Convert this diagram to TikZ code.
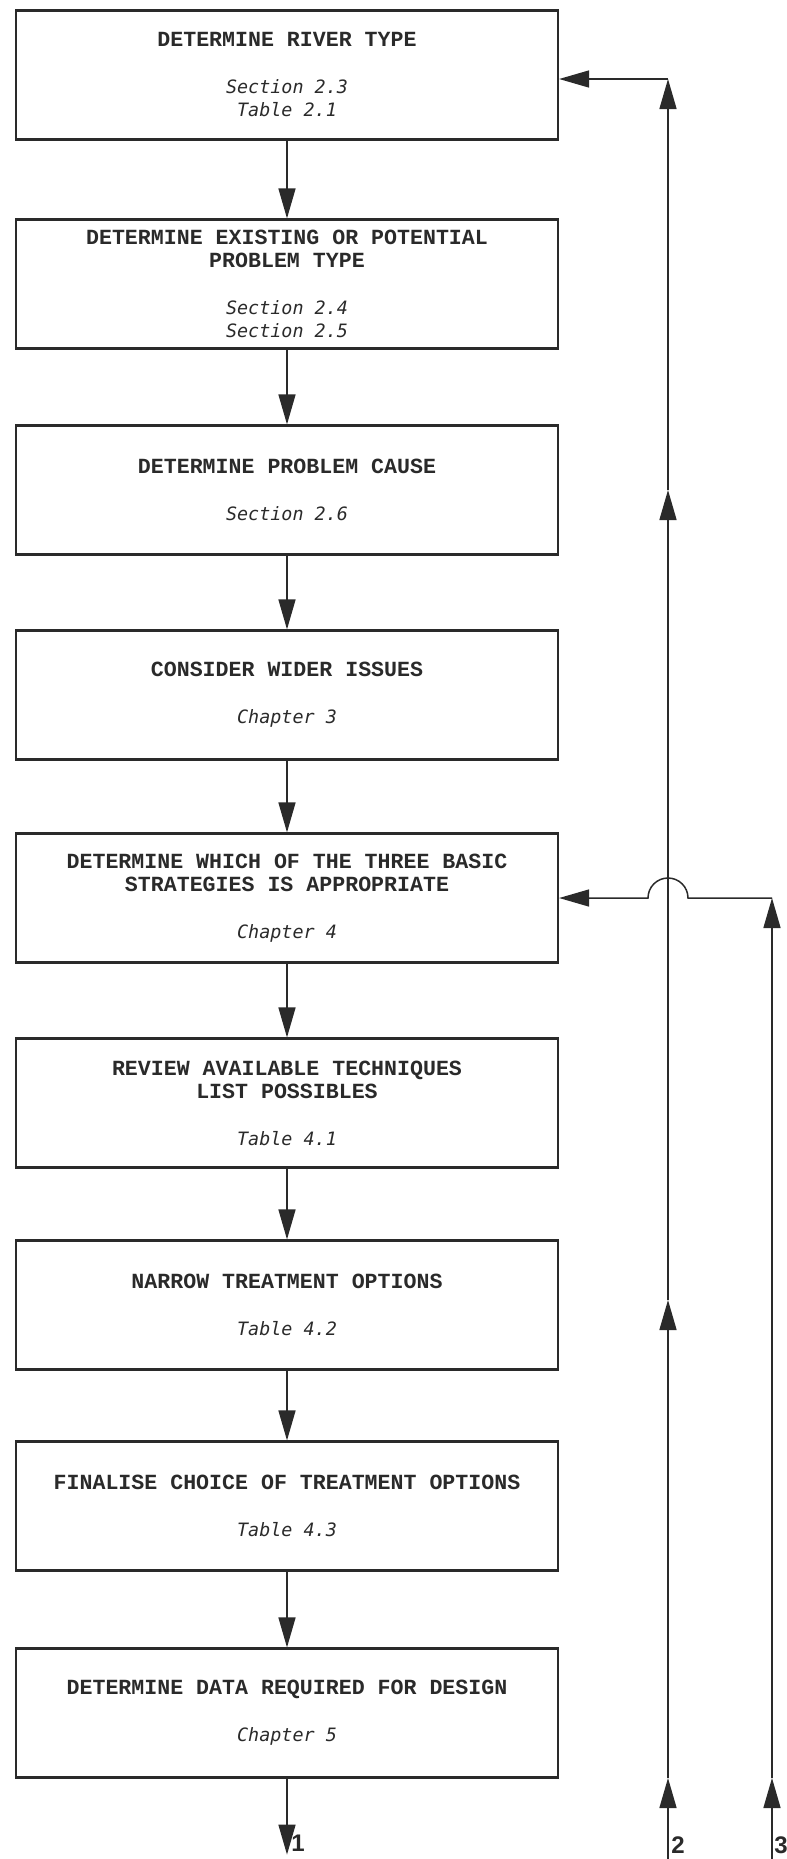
\documentclass[tikz,border=0pt]{standalone}
\usepackage{fontspec}
\setmonofont{Liberation Mono}
\newfontfamily\refsface{DejaVu Sans Mono}
\newfontfamily\digitfont{Liberation Sans}
\usetikzlibrary{arrows.meta,calc,positioning}
\definecolor{ink}{HTML}{2A2A2A}
\newcommand\titlefont{\ttfamily\bfseries\fontsize{10.8}{11.5}\selectfont}
\newcommand\refsfont{\refsface\mdseries\itshape\fontsize{9.2}{11.5}\selectfont}

\tikzset{
  stage/.style={draw=ink,line width=1.1pt,minimum width=271pt,minimum height=64.5pt,
    inner sep=0pt,align=center,text=ink,font=\titlefont},
  flow/.style={draw=ink,line width=0.75pt,-{Triangle[length=15pt,width=8.5pt]}},
  tag/.style={inner sep=0.5pt,text=ink,font=\digitfont\bfseries\fontsize{12}{12}\selectfont}
}

\begin{document}
\begin{tikzpicture}[x=0.5pt,y=-0.5pt]
  \useasboundingbox (0,0) rectangle (787,1859);

  % the nine stages
  \node[stage] (b1) at (287,75) {DETERMINE RIVER TYPE\\[12pt]\refsfont Section 2.3\\\refsfont Table 2.1};
  \node[stage] (b2) at (287,284) {DETERMINE EXISTING OR POTENTIAL\\PROBLEM TYPE\\[12pt]\refsfont Section 2.4\\\refsfont Section 2.5};
  \node[stage] (b3) at (287,490) {DETERMINE PROBLEM CAUSE\\[12pt]\refsfont Section 2.6};
  \node[stage] (b4) at (287,695) {CONSIDER WIDER ISSUES\\[12pt]\refsfont Chapter 3};
  \node[stage] (b5) at (287,898) {DETERMINE WHICH OF THE THREE BASIC\\STRATEGIES IS APPROPRIATE\\[12pt]\refsfont Chapter 4};
  \node[stage] (b6) at (287,1103) {REVIEW AVAILABLE TECHNIQUES\\LIST POSSIBLES\\[12pt]\refsfont Table 4.1};
  \node[stage] (b7) at (287,1305) {NARROW TREATMENT OPTIONS\\[12pt]\refsfont Table 4.2};
  \node[stage] (b8) at (287,1506) {FINALISE CHOICE OF TREATMENT OPTIONS\\[12pt]\refsfont Table 4.3};
  \node[stage] (b9) at (287,1713) {DETERMINE DATA REQUIRED FOR DESIGN\\[12pt]\refsfont Chapter 5};

  \foreach \a/\b in {b1/b2,b2/b3,b3/b4,b4/b5,b5/b6,b6/b7,b7/b8,b8/b9}
    \draw[flow] (\a) -- (\b);

  % exit 1
  \coordinate (out1) at ($(b9.south)+(0,76)$);
  \draw[flow] (b9.south) -- (out1);
  \node[tag,anchor=south west] (t1) at ($(out1)+(3,-2)$) {1};

  % return 2 to the first stage
  \coordinate (l2bot) at (668,1859);
  \foreach \y [count=\i] in {1778,1300,490,79}
    \coordinate (l2m\i) at (668,\y);
  \draw[flow] (l2bot) -- (l2m1);
  \draw[flow] (l2m1) -- (l2m2);
  \draw[flow] (l2m2) -- (l2m3);
  \draw[flow] (l2m3) -- (l2m4);
  \draw[flow] (l2m4) -- (l2m4 -| b1.east);
  \node[tag,anchor=south west] (t2) at ($(l2bot)+(2,-4)$) {2};

  % return 3 to the strategy stage, hopping over 2
  \coordinate (l3bot) at (772,1859);
  \coordinate (l3m1) at (772,1778);
  \coordinate (l3top) at (b5.east -| l3bot);
  \coordinate (hopR) at ($(b5.east -| l2bot)+(20,0)$);
  \draw[flow] (l3bot) -- (l3m1);
  \draw[flow] (l3m1) -- (l3top);
  \draw[flow] (l3top) -- (hopR) arc[start angle=0,end angle=180,radius=10pt] -- (b5.east);
  \node[tag,anchor=south west] (t3) at ($(l3bot)+(1,-4)$) {3};
\end{tikzpicture}
\end{document}
